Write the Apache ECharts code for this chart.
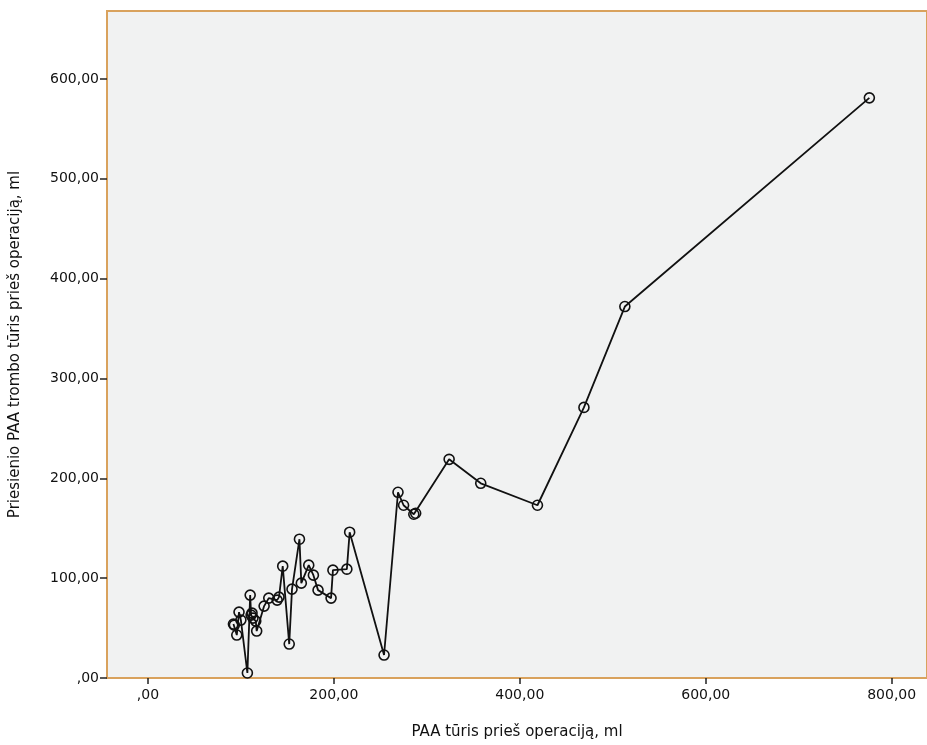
<!DOCTYPE html>
<html>
<head>
<meta charset="utf-8">
<script src="https://cdn.jsdelivr.net/npm/echarts@6/dist/echarts.min.js"></script>
<style>html,body{margin:0;padding:0;background:#fff}#c{width:927px;height:745px}</style>
</head>
<body>
<div id="c"></div>
<script>
const xValues = [92, 93, 95.6, 98, 100, 107, 110, 111, 112, 113, 116, 117, 125, 130, 139, 141, 145, 152, 155, 163, 165, 173, 178, 183, 197, 199, 214, 217, 254, 269, 275, 286, 288, 324, 358, 419, 469, 513, 776];
const yValues = [54, 53, 43, 66, 58, 5, 83, 63, 65, 60, 57, 47, 72, 80, 78, 81, 112, 34, 89, 139, 95, 113, 103, 88, 80, 108, 109, 146, 23, 186, 173, 164, 165, 219, 195, 173, 271, 372, 581];
const xTicks = [0, 200, 400, 600, 800];
const yTicks = [0, 100, 200, 300, 400, 500, 600];
const xName = 'PAA tūris prieš operaciją, ml';
const yName = 'Priesienio PAA trombo tūris prieš operaciją, ml';

const fmt = v => {
  const s = v.toFixed(2).replace('.', ',');
  return v === 0 ? ',00' : s;
};
const data = xValues.map((x, i) => [x, yValues[i]]);
const orange = '#D9A25D';
const chart = echarts.init(document.getElementById('c'));
chart.setOption({
  animation: false,
  grid: { left: 107, right: -2, top: 11, bottom: 63, show: true, backgroundColor: '#F1F2F2', borderColor: orange, borderWidth: 2 },
  xAxis: {
    type: 'value', min: -44, max: 838,
    name: xName, nameLocation: 'middle', nameGap: 47,
    nameTextStyle: { fontFamily: 'DejaVu Sans', fontSize: 15, color: '#111' },
    axisLine: { show: true, onZero: false, lineStyle: { color: orange, width: 2 } },
    axisTick: { show: true, customValues: xTicks, length: 6, lineStyle: { color: '#222', width: 1.5 } },
    axisLabel: { customValues: xTicks, formatter: fmt, fontFamily: 'DejaVu Sans', fontSize: 14, color: '#111', margin: 10 },
    splitLine: { show: false }
  },
  yAxis: {
    type: 'value', min: 0, max: 668,
    name: yName, nameLocation: 'middle', nameGap: 84, nameRotate: 90,
    nameTextStyle: { fontFamily: 'DejaVu Sans', fontSize: 15, color: '#111' },
    axisLine: { show: true, onZero: false, lineStyle: { color: orange, width: 2 } },
    axisTick: { show: true, customValues: yTicks, length: 7, lineStyle: { color: '#222', width: 1.5 } },
    axisLabel: { customValues: yTicks, formatter: fmt, fontFamily: 'DejaVu Sans', fontSize: 14, color: '#111', margin: 8 },
    splitLine: { show: false }
  },
  series: [{
    type: 'line', data: data,
    symbol: 'circle', symbolSize: 10, showAllSymbol: true,
    lineStyle: { color: '#111', width: 1.8 },
    itemStyle: { color: 'rgba(0,0,0,0)', borderColor: '#111', borderWidth: 1.6 },
    emphasis: { disabled: true }
  }]
});
</script>
</body>
</html>
